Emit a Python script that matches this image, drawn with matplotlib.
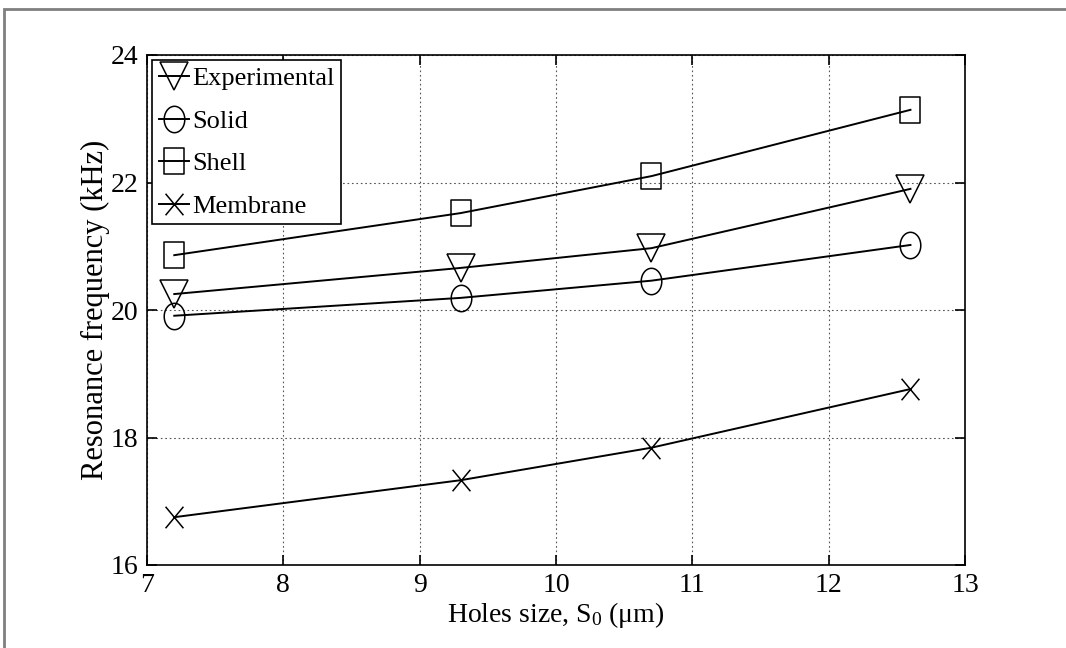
#!/usr/bin/env python3
"""Resonance frequency vs holes size, MATLAB-style line chart."""

import numpy as np
import matplotlib
matplotlib.use('Agg')
import matplotlib.pyplot as plt
from matplotlib.path import Path
from matplotlib.patches import Rectangle

plt.rcParams['font.family'] = ['Liberation Serif', 'DejaVu Serif']
plt.rcParams['mathtext.fontset'] = 'custom'
plt.rcParams['mathtext.rm'] = 'Liberation Serif'
plt.rcParams['mathtext.it'] = 'Liberation Serif'

# Data
hole_size = [7.2, 9.3, 10.7, 12.6]
experimental = [20.25, 20.66, 20.97, 21.90]
solid = [19.91, 20.19, 20.46, 21.02]
shell = [20.86, 21.52, 22.10, 23.14]
membrane = [16.75, 17.33, 17.84, 18.76]

x_ticks = [7, 8, 9, 10, 11, 12, 13]
y_ticks = [16, 18, 20, 22, 24]

# Markers a bit taller than wide (the original picture is squeezed sideways)
t = np.linspace(0, 2 * np.pi, 60)
ellipse = Path(np.column_stack([0.78 * np.cos(t), np.sin(t)]))
rect = Path([(-0.8, -1), (0.8, -1), (0.8, 1), (-0.8, 1), (-0.8, -1)],
            [Path.MOVETO, Path.LINETO, Path.LINETO, Path.LINETO, Path.CLOSEPOLY])
cross = Path([(-0.83, -1), (0.83, 1), (-0.83, 1), (0.83, -1)],
             [Path.MOVETO, Path.LINETO, Path.MOVETO, Path.LINETO])

series = [
    ('Experimental', experimental, 'v', 20),
    ('Solid', solid, ellipse, 19),
    ('Shell', shell, rect, 18.5),
    ('Membrane', membrane, cross, 15.5),
]

fig = plt.figure(figsize=(10.66, 6.48), dpi=100)
fig.patch.set_facecolor('white')
# grey outer frame
fig.patches.append(Rectangle((4 / 1066, -0.05), 1.1, 1 - 9 / 648 + 0.05,
                             transform=fig.transFigure, fill=False,
                             edgecolor='#7f7f7f', linewidth=2))

ax = fig.add_axes([147 / 1066, 1 - 565 / 648, 818 / 1066, 510 / 648])

for name, vals, mk, ms in series:
    ax.plot(hole_size, vals, color='black', linewidth=1.4, marker=mk,
            markersize=ms, markerfacecolor='none', markeredgecolor='black',
            markeredgewidth=1.1, label=name)

ax.set_xlim(7, 13)
ax.set_ylim(16, 24)
ax.set_xticks(x_ticks)
ax.set_yticks(y_ticks)
ax.grid(True, color='#555555', linestyle=(0, (1.5, 2.5)), linewidth=0.8)
ax.tick_params(direction='in', length=7, width=1.2, top=True, right=True,
               labelsize=20, pad=6)
for s in ax.spines.values():
    s.set_linewidth(1.2)

ax.set_xlabel(r'Holes size, S$_0$ ($\mu$m)', fontsize=20, labelpad=1)
ax.set_ylabel('Resonance frequency (kHz)', fontsize=22, labelpad=1)

leg = ax.legend(loc='upper left', fontsize=19, frameon=True, fancybox=False,
                edgecolor='black', framealpha=1, handlelength=1.15,
                handletextpad=0.12, borderpad=0.25, labelspacing=0.72,
                borderaxespad=0.2)
leg.get_frame().set_linewidth(1.2)

plt.savefig('out.png', dpi=100, facecolor='white')
plt.close()
